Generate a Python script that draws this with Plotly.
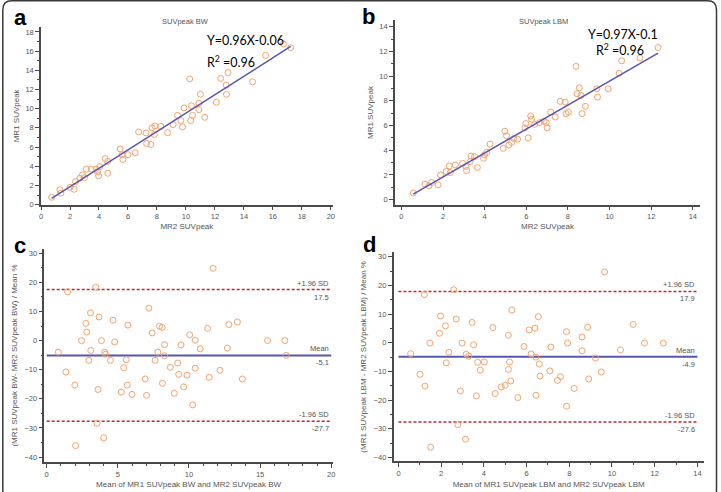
import plotly.graph_objects as go

W, H = 721, 492

# ---------------- data ----------------
# Panel a: SUVpeak BW (MR2 vs MR1)
a_x = [0.73, 1.30, 1.37, 2.0, 2.29, 2.38, 2.67, 2.86, 3.0, 3.13, 3.47, 3.8, 3.9, 3.97, 4.05,
       4.43, 4.6, 4.6, 5.46, 5.6, 5.65, 6.0, 6.5, 6.74, 7.25, 7.29, 7.59, 7.66, 7.86, 7.82,
       8.27, 8.73, 9.12, 9.42, 9.65, 9.76, 9.87, 10.33, 10.45, 10.38, 10.26, 10.9, 10.9, 11.0,
       11.3, 12.1, 12.4, 12.78, 12.8, 12.9, 14.6, 15.5, 16.73, 17.23]
a_y = [0.76, 1.55, 1.2, 1.8, 1.6, 2.4, 2.75, 3.1, 2.8, 3.7, 3.7, 3.7, 3.4, 3.0, 3.95,
       4.8, 4.5, 3.27, 5.8, 5.2, 4.7, 5.2, 5.4, 7.57, 7.47, 6.37, 6.26, 8.0, 8.2, 7.3,
       8.15, 7.5, 8.33, 9.3, 8.77, 8.1, 10.08, 8.77, 9.3, 10.3, 13.1, 10.56, 9.9, 11.5,
       9.1, 10.67, 13.15, 12.46, 11.5, 13.76, 12.8, 15.55, 16.76, 16.35]
a_fit = (0.96, -0.06)

# Panel b: SUVpeak LBM (MR2 vs MR1)
b_x = [0.57, 1.13, 1.32, 1.45, 1.76, 1.88, 2.15, 2.3, 2.35, 2.59, 2.94, 3.1, 3.13, 3.3, 3.34,
       3.51, 3.65, 3.94, 3.99, 4.1, 4.26, 4.89, 4.97, 5.05, 5.16, 5.29, 5.4, 5.58, 5.93, 5.98,
       6.09, 6.21, 6.25, 6.4, 6.64, 6.85, 6.96, 7.0, 7.17, 7.39, 7.63, 7.87, 7.91, 8.02, 8.39,
       8.44, 8.55, 8.63, 8.68, 8.84, 9.39, 9.42, 9.93, 10.46, 10.58, 11.46, 12.33]
b_y = [0.54, 1.26, 1.12, 1.39, 1.2, 2.0, 2.28, 2.73, 2.19, 2.81, 2.94, 2.68, 2.36, 3.08, 3.53,
       3.48, 2.6, 3.35, 3.61, 3.83, 4.5, 4.15, 5.54, 5.17, 4.42, 4.63, 4.95, 4.9, 5.81, 6.16,
       5.0, 6.77, 6.5, 6.1, 6.24, 6.34, 6.24, 5.81, 7.09, 6.69, 7.95, 7.9, 6.96, 7.09, 10.79,
       8.57, 9.05, 8.43, 6.96, 7.55, 8.97, 8.3, 8.97, 10.22, 11.24, 11.46, 12.31]
b_fit = (0.97, -0.1)

# Panel c: Bland-Altman BW
c_x = [0.82, 1.35, 1.47, 1.98, 2.03, 2.45, 2.75, 2.82, 2.96, 3.08, 3.1, 3.45, 3.54, 3.61, 3.68,
       3.85, 4.0, 4.08, 4.13, 4.48, 4.66, 4.78, 5.24, 5.41, 5.59, 5.66, 5.71, 5.99, 6.92, 7.02,
       7.18, 7.41, 7.62, 7.81, 7.93, 8.11, 8.28, 8.28, 8.14, 8.69, 8.97, 9.21, 9.28, 9.44, 9.63,
       9.86, 10.05, 10.26, 10.44, 10.44, 10.79, 11.31, 11.42, 11.7, 12.17, 12.7, 12.8, 13.4,
       13.75, 15.52, 16.74, 16.83]
c_y = [-4.0, -10.8, 16.75, -15.3, -36.1, 0.0, 5.9, 2.9, -6.8, 9.5, -3.4, 18.3, -28.4, -16.8, 8.1,
       0.0, -33.4, -4.0, -4.7, -6.8, 7.0, -0.5, -17.7, -9.3, -6.6, -15.3, 5.3, -18.5, -13.2, -18.8,
       11.1, 2.6, -6.8, -4.0, 4.9, 4.5, -1.4, -5.2, -14.7, -9.2, -18.1, -7.7, -11.6, -1.5, -15.9,
       -11.9, 2.0, -22.1, 0.1, -9.5, -2.85, 4.2, -12.6, 24.8, -10.2, -2.6, 5.5, 6.4,
       -13.2, 0.0, 0.0, -5.1]
c_stats = {"mean": -5.1, "upper": 17.5, "lower": -27.7}

# Panel d: Bland-Altman LBM
d_x = [0.57, 1.01, 1.21, 1.24, 1.47, 1.51, 1.92, 1.97, 2.2, 2.24, 2.36, 2.59, 2.7, 2.78, 2.9,
       2.98, 3.17, 3.29, 3.14, 3.45, 3.52, 3.65, 3.71, 3.83, 4.02, 4.42, 4.53, 4.81, 5.0, 5.15,
       5.15, 5.2, 5.26, 5.31, 5.59, 5.88, 6.12, 6.21, 6.39, 6.44, 6.44, 6.55, 6.6, 6.63, 7.09,
       7.14, 7.45, 7.59, 7.87, 7.87, 7.92, 8.23, 8.6, 8.6, 8.86, 8.91, 9.23, 9.5, 9.65, 10.4,
       10.99, 11.52, 12.4]
d_y = [-3.8, -11.0, 16.8, -15.1, -0.1, -36.4, 3.3, 9.3, 5.9, -7.0, -3.3, 18.5, 8.3, -28.5, -16.8,
       -0.1, -4.0, -4.7, -33.6, 7.1, -0.7, -18.5, -6.8, -9.5, -6.7, 5.3, -17.7, -15.4, -14.8, 2.6,
       -9.3, -6.7, -13.3, 11.4, -19.1, -1.3, 4.5, -3.9, 5.1, -5.0, -18.3, 9.1, -7.4, -11.6, -9.8,
       -1.5, -13.1, -11.8, 3.9, -22.1, -0.1, -15.9, 2.0, -2.8, 5.4, -12.6, -5.3, -10.2, 24.7, -2.5,
       6.4, -0.1, -0.1]
d_stats = {"mean": -4.9, "upper": 17.9, "lower": -27.6}

# ---------------- styling ----------------
ORANGE = "#F3A36C"
BLUE = "#5656B4"
RED = "#C0282C"
AXC = "#4a4a4a"
TXT = "#555555"
FONT = "Liberation Sans, Arial, sans-serif"


def px2x(p):
    return p / W


def px2y(p):
    return 1 - p / H


fig = go.Figure()

marker = dict(symbol="circle-open", size=6, color=ORANGE, line=dict(width=1, color=ORANGE))

# scatter panels
fig.add_trace(go.Scatter(x=a_x, y=a_y, mode="markers", marker=marker, xaxis="x", yaxis="y", showlegend=False))
fx = [min(a_x), max(a_x)]
fig.add_trace(go.Scatter(x=fx, y=[a_fit[0] * v + a_fit[1] for v in fx], mode="lines",
                         line=dict(color=BLUE, width=1.5), xaxis="x", yaxis="y", showlegend=False))

fig.add_trace(go.Scatter(x=b_x, y=b_y, mode="markers", marker=marker, xaxis="x2", yaxis="y2", showlegend=False))
fx = [min(b_x), max(b_x)]
fig.add_trace(go.Scatter(x=fx, y=[b_fit[0] * v + b_fit[1] for v in fx], mode="lines",
                         line=dict(color=BLUE, width=1.5), xaxis="x2", yaxis="y2", showlegend=False))

# Bland-Altman panels
for xs, ys, st, xa, ya, xmax in [(c_x, c_y, c_stats, "x3", "y3", 20), (d_x, d_y, d_stats, "x4", "y4", 14)]:
    for key in ("upper", "lower"):
        fig.add_trace(go.Scatter(x=[0, xmax], y=[st[key]] * 2, mode="lines",
                                 line=dict(color=RED, width=1.5, dash="3px,2px"),
                                 xaxis=xa, yaxis=ya, showlegend=False))
    fig.add_trace(go.Scatter(x=[0, xmax], y=[st["mean"]] * 2, mode="lines",
                             line=dict(color=BLUE, width=2), xaxis=xa, yaxis=ya, showlegend=False))
    fig.add_trace(go.Scatter(x=xs, y=ys, mode="markers", marker=marker, xaxis=xa, yaxis=ya, showlegend=False))


def axis(domain, rng, dtick, title, minor=None, standoff=4):
    d = dict(domain=domain, range=rng, dtick=dtick, tick0=0, showline=True, linecolor=AXC, linewidth=1.5,
             ticks="outside", ticklen=4, tickwidth=1, tickcolor=AXC, showgrid=False, zeroline=False,
             tickfont=dict(family=FONT, size=7.5, color=TXT),
             title=dict(text=title, font=dict(family=FONT, size=8, color=TXT), standoff=standoff))
    if minor:
        d["minor"] = dict(dtick=minor, ticklen=2, tickwidth=1, tickcolor=AXC, ticks="outside", showgrid=False)
    return d


fig.update_layout(
    width=W, height=H, margin=dict(l=0, r=0, t=0, b=0),
    paper_bgcolor="white", plot_bgcolor="white",
    xaxis=axis([px2x(39.3), px2x(333)], [0, 20.13], 2, "MR2 SUVpeak", standoff=3),
    yaxis=axis([px2y(206.7), px2y(27.4)], [0, 18.5], 2, "MR1 SUVpeak", minor=1, standoff=5),
    xaxis2=axis([px2x(395.7), px2x(703)], [-0.31, 14.35], 2, "MR2 SUVpeak", standoff=3),
    yaxis2=axis([px2y(206.7), px2y(20.7)], [-0.4, 14.5], 2, "MR1 SUVpeak", minor=1, standoff=5),
    xaxis3=axis([px2x(42.7), px2x(333)], [-0.16, 20.1], 5, "Mean of MR1 SUVpeak BW and MR2 SUVpeak BW", minor=1, standoff=4),
    yaxis3=axis([px2y(466.7), px2y(251.7)], [-41.7, 31.4], 10, "(MR1 SUVpeak BW- MR2 SUVpeak BW) / Mean %", minor=5, standoff=6),
    xaxis4=axis([px2x(394.3), px2x(706.7)], [-0.23, 14.3], 2, "Mean of MR1 SUVpeak LBM and MR2 SUVpeak LBM", minor=1, standoff=4),
    yaxis4=axis([px2y(466), px2y(255)], [-41.3, 31.5], 10, "(MR1 SUVpeak LBM - MR2 SUVpeak LBM) / Mean %", minor=5, standoff=6),
)
for i in ["", "2", "3", "4"]:
    fig.layout["xaxis" + i].anchor = "y" + i
    fig.layout["yaxis" + i].anchor = "x" + i

ann = []


def paper_text(text, xp, yp, font, xanchor="center"):
    return dict(text=text, x=px2x(xp), y=px2y(yp), xref="paper", yref="paper", xanchor=xanchor,
                yanchor="middle", showarrow=False, font=font)


# panel letters
for letter, xp, yp in [("a", 18.5, 18), ("b", 369.5, 17), ("c", 18.5, 248), ("d", 370, 247)]:
    ann.append(paper_text("<b>%s</b>" % letter, xp, yp, dict(family=FONT, size=22, color="black")))
# panel titles
ann.append(paper_text("SUVpeak BW", 185, 21.5, dict(family=FONT, size=7.5, color=TXT)))
ann.append(paper_text("SUVpeak LBM", 545, 22, dict(family=FONT, size=7.5, color=TXT)))
# regression equations
EQF = dict(family="Lato, Liberation Sans, sans-serif", size=12.5, color="black")
ann.append(paper_text("Y=%.2fX%.2f" % a_fit, 204, 41, EQF, xanchor="left"))
ann.append(paper_text("R<sup>2</sup> =0.96", 204, 62, EQF, xanchor="left"))
ann.append(paper_text("Y=%.2fX%.1f" % b_fit, 625, 35, EQF))
ann.append(paper_text("R<sup>2</sup> =0.96", 622, 50, EQF))
# Bland-Altman labels
LBF = dict(family=FONT, size=7.5, color=TXT)
for st, xa, ya, xmax in [(c_stats, "x3", "y3", 20), (d_stats, "x4", "y4", 14)]:
    for key, name in [("upper", "+1.96 SD"), ("mean", "Mean"), ("lower", "-1.96 SD")]:
        ann.append(dict(text=name, x=xmax, y=st[key], xref=xa, yref=ya, xanchor="right", yanchor="bottom",
                        yshift=0, showarrow=False, font=LBF))
        ann.append(dict(text="%.1f" % st[key], x=xmax, y=st[key], xref=xa, yref=ya, xanchor="right",
                        yanchor="top", yshift=-1, showarrow=False, font=LBF))
fig.update_layout(annotations=ann)

# rounded outer frame (bottom edge lies outside the picture, as in the reference)
r = 9
x0, y0, x1, y1 = 0.8, 0.8, W - 1.5, H + 12
pts = lambda x, y: "%f,%f" % (px2x(x), px2y(y))
path = ("M " + pts(x0 + r, y0) + " L " + pts(x1 - r, y0) + " Q " + pts(x1, y0) + " " + pts(x1, y0 + r) +
        " L " + pts(x1, y1 - r) + " Q " + pts(x1, y1) + " " + pts(x1 - r, y1) +
        " L " + pts(x0 + r, y1) + " Q " + pts(x0, y1) + " " + pts(x0, y1 - r) +
        " L " + pts(x0, y0 + r) + " Q " + pts(x0, y0) + " " + pts(x0 + r, y0) + " Z")
fig.add_shape(type="path", path=path, xref="paper", yref="paper", line=dict(color="#3a3a3a", width=1.5))

fig.write_html("out.html")
